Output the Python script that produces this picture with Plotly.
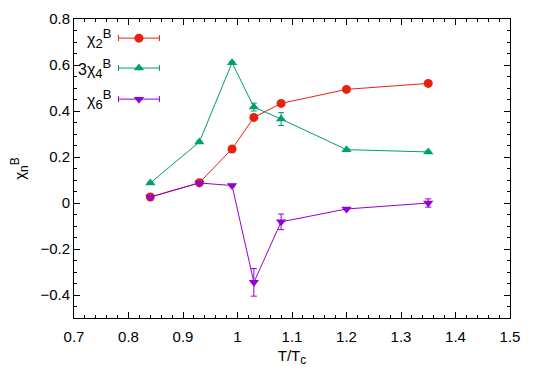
import plotly.graph_objects as go

# T/Tc values
t_over_tc = [0.84, 0.93, 0.99, 1.03, 1.08, 1.20, 1.35]

chi2 = [0.026, 0.088, 0.235, 0.372, 0.433, 0.494, 0.520]
chi2_err = [0.004, 0.004, 0.004, 0.005, 0.005, 0.004, 0.004]

chi4x3 = [0.087, 0.265, 0.610, 0.417, 0.365, 0.232, 0.222]
chi4x3_err = [0.004, 0.005, 0.006, 0.017, 0.028, 0.004, 0.004]

chi6 = [0.026, 0.087, 0.076, -0.345, -0.082, -0.026, 0.000]
chi6_err = [0.004, 0.004, 0.005, 0.060, 0.034, 0.004, 0.018]


def lbl(pre, sub, sup="", size=13):
    # bigger sub/superscripts than plotly's default 70%
    s = f"{pre}<sub><span style='font-size:{size}px'>{sub}</span></sub>"
    if sup:
        s += f"<sup><span style='font-size:{size}px'>{sup}</span></sup>"
    return s


series = [
    (lbl("χ", "2", "B"), chi2, chi2_err, "#e8210f", "circle", 9),
    (lbl("3χ", "4", "B"), chi4x3, chi4x3_err, "#009e73", "triangle-up", 9),
    (lbl("χ", "6", "B"), chi6, chi6_err, "#9400d3", "triangle-down", 9),
]

font = "Liberation Sans, Arial, sans-serif"
fig = go.Figure()

for name, vals, errs, col, sym, sz in series:
    fig.add_trace(go.Scatter(
        x=t_over_tc, y=vals, mode="lines+markers", name=name,
        line=dict(color=col, width=1),
        marker=dict(color=col, symbol=sym, size=sz, line=dict(width=0)),
        error_y=dict(type="data", array=errs, color=col, thickness=1, width=3),
        showlegend=False,
    ))

# gnuplot-like key drawn on an overlay axis in [0,1] coordinates
key_rows = [0.936, 0.836, 0.732]
for (name, vals, errs, col, sym, sz), ky in zip(series, key_rows):
    fig.add_trace(go.Scatter(
        x=[0.149], y=[ky], mode="markers", xaxis="x2", yaxis="y2",
        marker=dict(color=col, symbol=sym, size=sz, line=dict(width=0)),
        error_x=dict(type="constant", value=0.047, color=col, thickness=1, width=3),
        showlegend=False, hoverinfo="skip",
    ))
    fig.add_annotation(x=0.09, y=ky, xref="paper", yref="paper", text=name,
                       showarrow=False, xanchor="right", yanchor="middle",
                       font=dict(size=16, color="black", family=font))

axis_common = dict(showline=True, linecolor="black", linewidth=1, mirror="allticks",
                   ticks="inside", ticklen=6, tickcolor="black", showgrid=False,
                   zeroline=False, automargin=False,
                   tickfont=dict(size=15, family=font, color="black"))

# page body has an 8px margin, so the figure is a bit smaller than the window
fig.update_layout(
    width=537, height=374,
    margin=dict(l=66, r=35, t=11, b=64),
    plot_bgcolor="white", paper_bgcolor="white",
    font=dict(family=font, size=15, color="black"),
    xaxis=dict(range=[0.7, 1.5], dtick=0.1, tickformat="~g", ticklabelstandoff=5,
               minor=dict(ticks="inside", dtick=0.02, ticklen=3, tickcolor="black"),
               title=dict(text=lbl("T/T", "c", size=12), standoff=6, font=dict(size=15)),
               **axis_common),
    yaxis=dict(range=[-0.5, 0.8], dtick=0.2, tickformat="~g",
               minor=dict(ticks="inside", dtick=0.05, ticklen=3, tickcolor="black"),
               title=dict(text=lbl("χ", "n", "B", 12), standoff=26, font=dict(size=15)),
               **axis_common),
    xaxis2=dict(range=[0, 1], overlaying="x", visible=False),
    yaxis2=dict(range=[0, 1], overlaying="y", visible=False),
)

fig.write_html("out.html")
